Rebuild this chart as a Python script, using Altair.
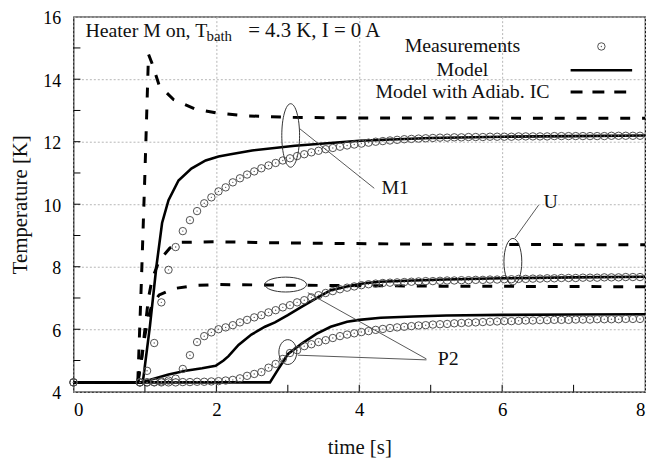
import altair as alt
import pandas as pd

# ---------------- data ----------------
TIME_MEAS = [0.0,
             0.93, 1.03, 1.13, 1.23, 1.33, 1.43, 1.53, 1.63, 1.73, 1.83,
             1.93, 2.03, 2.13, 2.23, 2.33, 2.43, 2.53, 2.63, 2.73, 2.83,
             2.93, 3.03, 3.13, 3.23, 3.33, 3.43, 3.53, 3.63, 3.73, 3.83,
             3.93, 4.03, 4.13, 4.23, 4.33, 4.43, 4.53, 4.63, 4.73, 4.83,
             4.93, 5.03, 5.13, 5.23, 5.33, 5.43, 5.53, 5.63, 5.73, 5.83,
             5.93, 6.03, 6.13, 6.23, 6.33, 6.43, 6.53, 6.63, 6.73, 6.83,
             6.93, 7.03, 7.13, 7.23, 7.33, 7.43, 7.53, 7.63, 7.73, 7.83,
             7.93]

M1_MEAS = [4.30,
           4.30, 4.67, 5.56, 6.86, 7.90, 8.63, 9.14, 9.49, 9.78, 10.03,
           10.22, 10.41, 10.54, 10.70, 10.83, 10.95, 11.05, 11.15, 11.24, 11.32,
           11.40, 11.47, 11.54, 11.60, 11.66, 11.71, 11.76, 11.80, 11.84, 11.88,
           11.91, 11.94, 11.97, 12.00, 12.02, 12.04, 12.06, 12.08, 12.09, 12.10,
           12.11, 12.12, 12.13, 12.13, 12.14, 12.14, 12.15, 12.15, 12.15, 12.16,
           12.16, 12.16, 12.16, 12.17, 12.17, 12.17, 12.17, 12.17, 12.18, 12.18,
           12.18, 12.18, 12.18, 12.18, 12.18, 12.18, 12.19, 12.19, 12.19, 12.19,
           12.19]

U_MEAS = [4.30,
          4.30, 4.30, 4.31, 4.33, 4.36, 4.42, 4.73, 5.17, 5.59, 5.78,
          5.90, 6.00, 6.06, 6.13, 6.22, 6.30, 6.38, 6.45, 6.54, 6.61,
          6.70, 6.77, 6.86, 6.93, 7.02, 7.09, 7.16, 7.22, 7.28, 7.33,
          7.37, 7.41, 7.44, 7.46, 7.48, 7.49, 7.50, 7.51, 7.52, 7.53,
          7.54, 7.54, 7.55, 7.56, 7.56, 7.57, 7.57, 7.58, 7.58, 7.59,
          7.59, 7.60, 7.60, 7.61, 7.61, 7.62, 7.62, 7.63, 7.63, 7.64,
          7.64, 7.64, 7.65, 7.65, 7.65, 7.66, 7.66, 7.66, 7.67, 7.67,
          7.67]

P2_MEAS = [4.30,
           4.30, 4.30, 4.30, 4.30, 4.30, 4.30, 4.31, 4.31, 4.32, 4.32,
           4.33, 4.34, 4.36, 4.38, 4.43, 4.51, 4.57, 4.63, 4.77, 4.89,
           5.05, 5.24, 5.33, 5.46, 5.52, 5.59, 5.65, 5.72, 5.78, 5.83,
           5.87, 5.91, 5.94, 5.98, 6.01, 6.04, 6.06, 6.08, 6.10, 6.12,
           6.13, 6.15, 6.16, 6.17, 6.19, 6.20, 6.21, 6.22, 6.23, 6.24,
           6.25, 6.26, 6.26, 6.27, 6.28, 6.28, 6.29, 6.29, 6.30, 6.30,
           6.30, 6.31, 6.31, 6.31, 6.32, 6.32, 6.32, 6.32, 6.33, 6.33,
           6.33]

M1_MODEL_T = [0.0, 0.97, 1.07, 1.16, 1.24, 1.33, 1.47, 1.65, 1.85, 2.03, 2.2, 2.5, 3.1, 4.0, 5.0, 6.0, 7.0, 8.0]
M1_MODEL = [4.3, 4.3, 6.1, 8.0, 9.4, 10.13, 10.76, 11.14, 11.4, 11.53, 11.6, 11.72, 11.87, 12.03, 12.12, 12.16, 12.18, 12.2]

U_MODEL_T = [0.0, 0.95, 1.1, 1.33, 1.57, 1.8, 1.99, 2.1, 2.17, 2.31, 2.49, 2.68, 2.82, 3.0, 3.18, 3.42, 3.6, 3.83, 4.07, 4.29, 4.76, 5.22, 6.0, 7.0, 8.0]
U_MODEL = [4.3, 4.3, 4.4, 4.55, 4.67, 4.75, 4.83, 5.0, 5.14, 5.5, 5.83, 6.08, 6.22, 6.45, 6.7, 7.02, 7.25, 7.37, 7.47, 7.52, 7.56, 7.59, 7.63, 7.66, 7.68]

P2_MODEL_T = [0.0, 2.75, 2.86, 3.0, 3.2, 3.4, 3.6, 3.83, 4.0, 4.3, 4.76, 5.22, 6.0, 7.0, 8.0]
P2_MODEL = [4.3, 4.3, 4.7, 5.2, 5.55, 5.85, 6.08, 6.24, 6.3, 6.37, 6.41, 6.44, 6.46, 6.47, 6.48]

M1_ADIAB_T = [0.0, 0.9, 0.95, 1.0, 1.05, 1.1, 1.2, 1.4, 1.7, 2.0, 2.4, 3.0, 4.0, 8.0]
M1_ADIAB = [4.3, 4.3, 7.5, 11.0, 14.8, 14.5, 13.8, 13.35, 13.05, 12.92, 12.83, 12.78, 12.76, 12.75]

U_ADIAB_T = [0.0, 0.9, 0.95, 1.0, 1.05, 1.1, 1.2, 1.35, 1.5, 2.0, 3.0, 5.0, 8.0]
U_ADIAB = [4.3, 4.3, 5.0, 6.0, 7.0, 7.6, 8.2, 8.6, 8.78, 8.8, 8.76, 8.72, 8.7]

P2_ADIAB_T = [0.0, 0.9, 0.95, 1.0, 1.05, 1.1, 1.2, 1.4, 1.7, 2.0, 3.0, 5.0, 8.0]
P2_ADIAB = [4.3, 4.3, 5.0, 5.8, 6.4, 6.8, 7.1, 7.3, 7.4, 7.43, 7.41, 7.38, 7.36]

X_MINOR = [1, 2, 3, 4, 5, 6, 7]
Y_MINOR = [5, 6, 7, 8, 9, 10, 11, 12, 13, 14, 15]

LABELS = ["M1", "U", "P2"]
LABEL_T = [4.31, 6.58, 5.1]
LABEL_T_VAL = [10.51, 10.06, 5.05]

LEAD_T1 = [3.17, 6.18, 3.28, 3.14]
LEAD_V1 = [12.41, 8.92, 7.17, 5.17]
LEAD_T2 = [4.21, 6.51, 4.94, 4.94]
LEAD_V2 = [10.51, 9.97, 5.05, 5.02]

FONT = "Liberation Serif"
W, H = 576, 378

# ---------------- tables ----------------
meas = pd.concat([
    pd.DataFrame({"t": TIME_MEAS, "T": M1_MEAS, "s": "M1"}),
    pd.DataFrame({"t": TIME_MEAS, "T": U_MEAS, "s": "U"}),
    pd.DataFrame({"t": TIME_MEAS, "T": P2_MEAS, "s": "P2"}),
])
model = pd.concat([
    pd.DataFrame({"t": M1_MODEL_T, "T": M1_MODEL, "s": "M1"}),
    pd.DataFrame({"t": U_MODEL_T, "T": U_MODEL, "s": "U"}),
    pd.DataFrame({"t": P2_MODEL_T, "T": P2_MODEL, "s": "P2"}),
])
adiab = pd.concat([
    pd.DataFrame({"t": M1_ADIAB_T, "T": M1_ADIAB, "s": "M1"}),
    pd.DataFrame({"t": U_ADIAB_T, "T": U_ADIAB, "s": "U"}),
    pd.DataFrame({"t": P2_ADIAB_T, "T": P2_ADIAB, "s": "P2"}),
])

xs = alt.Scale(domain=[0, 8], nice=False, zero=False)
ys = alt.Scale(domain=[4, 16], nice=False, zero=False)

AX = dict(ticks=False, domain=False, grid=True, gridDash=[2, 2], gridColor="#b5b5b5",
          gridWidth=1, format="d", labelFont=FONT, titleFont=FONT,
          titleFontSize=21, labelColor="black", titleColor="#111", titleFontWeight="normal")
xaxis = alt.Axis(values=[0, 2, 4, 6, 8], labelPadding=9, titlePadding=17, labelFontSize=19, **AX)
yaxis = alt.Axis(values=[4, 6, 8, 10, 12, 14, 16], labelPadding=13, titlePadding=12,
                 labelFontSize=18, labelOffset=2, **AX)

base_x = alt.X("t:Q", scale=xs, axis=xaxis, title="time [s]")
base_y = alt.Y("T:Q", scale=ys, axis=yaxis, title="Temperature [K]")

adiab_layer = alt.Chart(adiab).mark_line(color="black", strokeWidth=3, strokeDash=[10, 12]).encode(
    x=base_x, y=base_y, detail="s:N", order="t:Q")
model_layer = alt.Chart(model).mark_line(color="black", strokeWidth=2.6).encode(
    x="t:Q", y="T:Q", detail="s:N", order="t:Q")
meas_layer = alt.Chart(meas).mark_point(shape="circle", filled=False, size=56,
                                        color="#505050", strokeWidth=1, opacity=1).encode(
    x="t:Q", y="T:Q")
dot_layer = alt.Chart(meas).mark_point(shape="circle", filled=True, size=2,
                                       color="#606060", opacity=1).encode(x="t:Q", y="T:Q")

# inward tick marks
xt = alt.Chart(pd.DataFrame({"t": X_MINOR})).mark_rule(color="black", strokeWidth=1).encode(
    x="t:Q", y=alt.value(H), y2=alt.value(H - 7))
yt = alt.Chart(pd.DataFrame({"T": Y_MINOR})).mark_rule(color="black", strokeWidth=1).encode(
    y="T:Q", x=alt.value(0), x2=alt.value(7))

# annotations
leads = alt.Chart(pd.DataFrame({"t": LEAD_T1, "T": LEAD_V1, "t2": LEAD_T2, "T2": LEAD_V2})).mark_rule(
    color="#444", strokeWidth=0.9).encode(x="t:Q", y="T:Q", x2="t2:Q", y2="T2:Q")
labels = alt.Chart(pd.DataFrame({"t": LABEL_T, "T": LABEL_T_VAL, "txt": LABELS})).mark_text(
    font=FONT, fontSize=20, align="left", baseline="middle", color="#111").encode(
    x="t:Q", y="T:Q", text="txt:N")

def ellipse(t, v, rx, ry, scale):
    path = f"M {-rx} 0 A {rx} {ry} 0 1 0 {rx} 0 A {rx} {ry} 0 1 0 {-rx} 0 Z"
    return alt.Chart(pd.DataFrame({"t": [t], "T": [v]})).mark_point(
        shape=path, size=(2 * scale) ** 2, filled=False, color="#333", strokeWidth=1, opacity=1
    ).encode(x="t:Q", y="T:Q")

ells = [
    ellipse(3.04, 12.2, 0.28, 1.0, 32),
    ellipse(6.15, 8.16, 0.383, 1.0, 23.5),
    ellipse(2.97, 7.43, 1.0, 0.357, 21),
    ellipse(3.0, 5.27, 0.72, 1.0, 12.5),
]

# title inside plot
title1 = alt.Chart(pd.DataFrame({"a": [0]})).mark_text(
    font=FONT, fontSize=20, align="left", baseline="alphabetic", color="#111",
    text="Heater M on, T").encode(x=alt.value(12), y=alt.value(20))
title2 = alt.Chart(pd.DataFrame({"a": [0]})).mark_text(
    font=FONT, fontSize=15, align="left", baseline="alphabetic", color="#111",
    text="bath").encode(x=alt.value(134), y=alt.value(25))
title3 = alt.Chart(pd.DataFrame({"a": [0]})).mark_text(
    font=FONT, fontSize=21, align="left", baseline="alphabetic", color="#111",
    text="= 4.3 K, I = 0 A").encode(x=alt.value(176), y=alt.value(20))

# legend
LEG_TEXT = ["Measurements", "Model", "Model with Adiab. IC"]
LEG_Y = [30, 54, 76]
leg_txt = alt.Chart(pd.DataFrame({"txt": LEG_TEXT, "py": LEG_Y})).mark_text(
    font=FONT, fontSize=20, align="center", baseline="middle", color="#111").encode(
    x=alt.value(392), y=alt.Y("py:Q", scale=None), text="txt:N")
leg_circ = alt.Chart(pd.DataFrame({"a": [0]})).mark_point(
    shape="circle", filled=False, size=56, color="#505050", strokeWidth=1, opacity=1).encode(
    x=alt.value(532), y=alt.value(30))
leg_dot = alt.Chart(pd.DataFrame({"a": [0]})).mark_point(
    shape="circle", filled=True, size=2, color="#606060", opacity=1).encode(
    x=alt.value(532), y=alt.value(30))
leg_solid = alt.Chart(pd.DataFrame({"a": [0]})).mark_rule(color="black", strokeWidth=2.6).encode(
    x=alt.value(501), x2=alt.value(563), y=alt.value(54))
leg_dash = alt.Chart(pd.DataFrame({"a": [0]})).mark_rule(color="black", strokeWidth=3,
                                                         strokeDash=[12, 10]).encode(
    x=alt.value(501), x2=alt.value(563), y=alt.value(76))

chart = alt.layer(
    adiab_layer, model_layer, meas_layer, dot_layer, xt, yt, leads, labels, *ells,
    title1, title2, title3, leg_txt, leg_circ, leg_dot, leg_solid, leg_dash,
).properties(
    width=W, height=H,
    background="white",
    autosize=alt.AutoSizeParams(type="none"),
    padding={"left": 66, "top": 7, "right": 4, "bottom": 66},
).configure_view(
    stroke="black", strokeWidth=1.2
)

chart.save("out.html", embed_options={"renderer": "svg", "actions": False})
